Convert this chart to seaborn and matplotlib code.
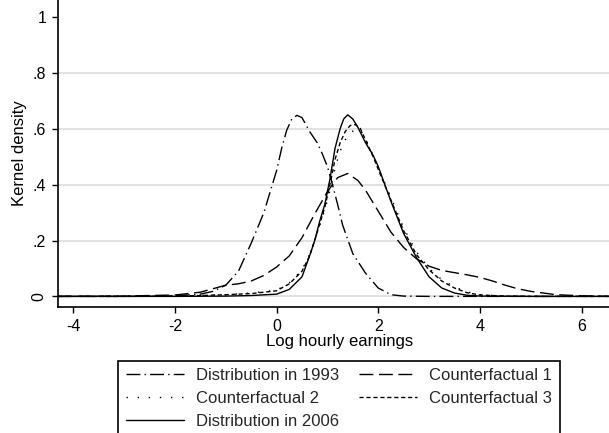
import matplotlib
matplotlib.use("Agg")
import matplotlib.pyplot as plt
import seaborn as sns
import pandas as pd

# ---- data ----
x_1993 = [-4.3, -3, -2, -1.5, -1.25, -1, -0.75, -0.5, -0.25, 0, 0.1, 0.2, 0.3, 0.4, 0.5,
          0.65, 0.8, 0.9, 1.0, 1.1, 1.2, 1.3, 1.5, 1.75, 2.0, 2.25, 2.5, 3, 4, 5, 6.55]
y_1993 = [0, 0, 0.002, 0.008, 0.018, 0.04, 0.09, 0.19, 0.30, 0.45, 0.53, 0.595, 0.635, 0.648, 0.64,
          0.59, 0.55, 0.51, 0.465, 0.40, 0.33, 0.255, 0.153, 0.083, 0.03, 0.006, 0.001, 0, 0, 0, 0]

x_cf1 = [-4.3, -3, -2, -1.5, -1, -0.75, -0.5, -0.25, 0, 0.25, 0.5, 0.75, 1.0, 1.2, 1.4, 1.6,
         1.75, 2.0, 2.25, 2.5, 2.75, 3.0, 3.25, 3.5, 3.75, 4.0, 4.25, 4.5, 4.75, 5.0, 5.5, 6.0, 6.55]
y_cf1 = [0, 0.001, 0.005, 0.015, 0.04, 0.045, 0.055, 0.075, 0.105, 0.145, 0.21, 0.295, 0.375, 0.425, 0.44, 0.415,
         0.38, 0.305, 0.23, 0.175, 0.135, 0.108, 0.093, 0.085, 0.077, 0.068, 0.055, 0.04, 0.027, 0.018, 0.006, 0.002, 0]

x_cf = [-4.3, -3, -2, -1.5, -1, -0.5, 0, 0.25, 0.5, 0.65, 0.75, 0.85, 0.95, 1.05, 1.15, 1.25, 1.35,
        1.45, 1.55, 1.65, 1.75, 1.9, 2.0, 2.25, 2.5, 2.75, 3.0, 3.25, 3.5, 3.75, 4.0, 4.5, 5, 6.55]
y_cf2 = [0, 0, 0.001, 0.003, 0.006, 0.012, 0.022, 0.048, 0.095, 0.15, 0.2, 0.255, 0.31, 0.38, 0.46, 0.52, 0.56,
         0.585, 0.598, 0.595, 0.565, 0.505, 0.46, 0.355, 0.245, 0.16, 0.10, 0.06, 0.034, 0.016, 0.006, 0.001, 0, 0]
y_cf3 = [0, 0, 0.001, 0.003, 0.006, 0.01, 0.02, 0.045, 0.09, 0.145, 0.2, 0.26, 0.32, 0.40, 0.49, 0.55, 0.59,
         0.612, 0.615, 0.60, 0.56, 0.50, 0.455, 0.345, 0.235, 0.15, 0.095, 0.055, 0.03, 0.013, 0.005, 0.001, 0, 0]

x_2006 = [-4.3, -3, -2, -1, -0.5, 0, 0.25, 0.5, 0.65, 0.75, 0.85, 0.95, 1.05, 1.15, 1.25, 1.32, 1.4,
          1.5, 1.6, 1.75, 1.9, 2.0, 2.25, 2.5, 2.75, 3.0, 3.25, 3.5, 3.75, 4.0, 5.0, 6.55]
y_2006 = [0, 0, 0, 0.001, 0.003, 0.008, 0.025, 0.07, 0.145, 0.2, 0.27, 0.33, 0.42, 0.53, 0.60, 0.635, 0.65,
          0.635, 0.605, 0.55, 0.505, 0.465, 0.34, 0.225, 0.14, 0.07, 0.03, 0.012, 0.004, 0.001, 0, 0]

series_names = ["Distribution in 1993", "Counterfactual 1", "Counterfactual 2",
                "Counterfactual 3", "Distribution in 2006"]
x_ticks = [-4, -2, 0, 2, 4, 6]
y_ticks = [0, 0.2, 0.4, 0.6, 0.8, 1.0]
y_ticklabels = ["0", ".2", ".4", ".6", ".8", "1"]

frames = []
for name, xs, ys in zip(series_names,
                        [x_1993, x_cf1, x_cf, x_cf, x_2006],
                        [y_1993, y_cf1, y_cf2, y_cf3, y_2006]):
    frames.append(pd.DataFrame({"x": xs, "y": ys, "series": name}))
df = pd.concat(frames, ignore_index=True)

sns.set_style("white")
plt.rcParams["font.family"] = ["Liberation Sans", "DejaVu Sans"]

W, H = 609, 433
fig = plt.figure(figsize=(W / 100, H / 100), dpi=100)
ax_l, ax_r, ax_b, ax_t = 58, 609, 307, 0
ax = fig.add_axes([ax_l / W, 1 - ax_b / H, (ax_r - ax_l) / W, (ax_b - ax_t) / H])

dash_map = {
    "Distribution in 1993": (10, 3, 1, 3),
    "Counterfactual 1": (10, 4),
    "Counterfactual 2": (1, 7),
    "Counterfactual 3": (3, 2),
    "Distribution in 2006": "",
}
sns.lineplot(data=df, x="x", y="y", style="series", style_order=series_names,
             dashes=dash_map, color="black", linewidth=1.0, estimator=None,
             sort=True, legend=False, ax=ax)

ax.set_xlim(-4.30, 6.54)
ax.set_ylim(-0.038, 1.061)
ax.set_xticks(x_ticks)
ax.set_xticklabels([str(t) for t in x_ticks])
ax.set_yticks(y_ticks)
ax.set_yticklabels(y_ticklabels)
ax.tick_params(axis="both", which="major", direction="out", length=4.5, width=1.0,
               color="black", labelsize=11.5, labelcolor="black", pad=4,
               bottom=True, left=True)
lbls = ax.get_yticklabels()
lbls[0].set_rotation(90)
lbls[0].set_va("center")

for yv in y_ticks[:-1]:
    ax.axhline(yv, color="#e2e2e2", linewidth=1.5, zorder=0)

for s in ["top", "right"]:
    ax.spines[s].set_visible(False)
for s in ["left", "bottom"]:
    ax.spines[s].set_color("black")
    ax.spines[s].set_linewidth(1.2)

ax.set_xlabel("Log hourly earnings", fontsize=12, color="black")
ax.xaxis.set_label_coords((340 - ax_l) / (ax_r - ax_l), -(334 - ax_b) / (ax_b - ax_t))
ax.xaxis.label.set_va("top")
ax.set_ylabel("Kernel density", fontsize=12, color="black")
ax.yaxis.label.set_va("center")
ax.yaxis.set_label_coords((20 - ax_l) / (ax_r - ax_l), 0.5)

lines = ax.get_lines()[:5]
order = [0, 2, 4, 1, 3]
leg = fig.legend([lines[i] for i in order], [series_names[i] for i in order],
                 ncol=2, loc="upper left", bbox_to_anchor=(118 / W, 1 - 360.5 / H),
                 bbox_transform=fig.transFigure, fontsize=12, frameon=True,
                 fancybox=False, shadow=False, framealpha=1, edgecolor="black",
                 borderpad=0.45, labelspacing=0.48, handlelength=3.5,
                 handletextpad=0.75, columnspacing=1.15, borderaxespad=0)
leg.get_frame().set_linewidth(1.2)

fig.savefig("out.png", dpi=100, facecolor="white")
